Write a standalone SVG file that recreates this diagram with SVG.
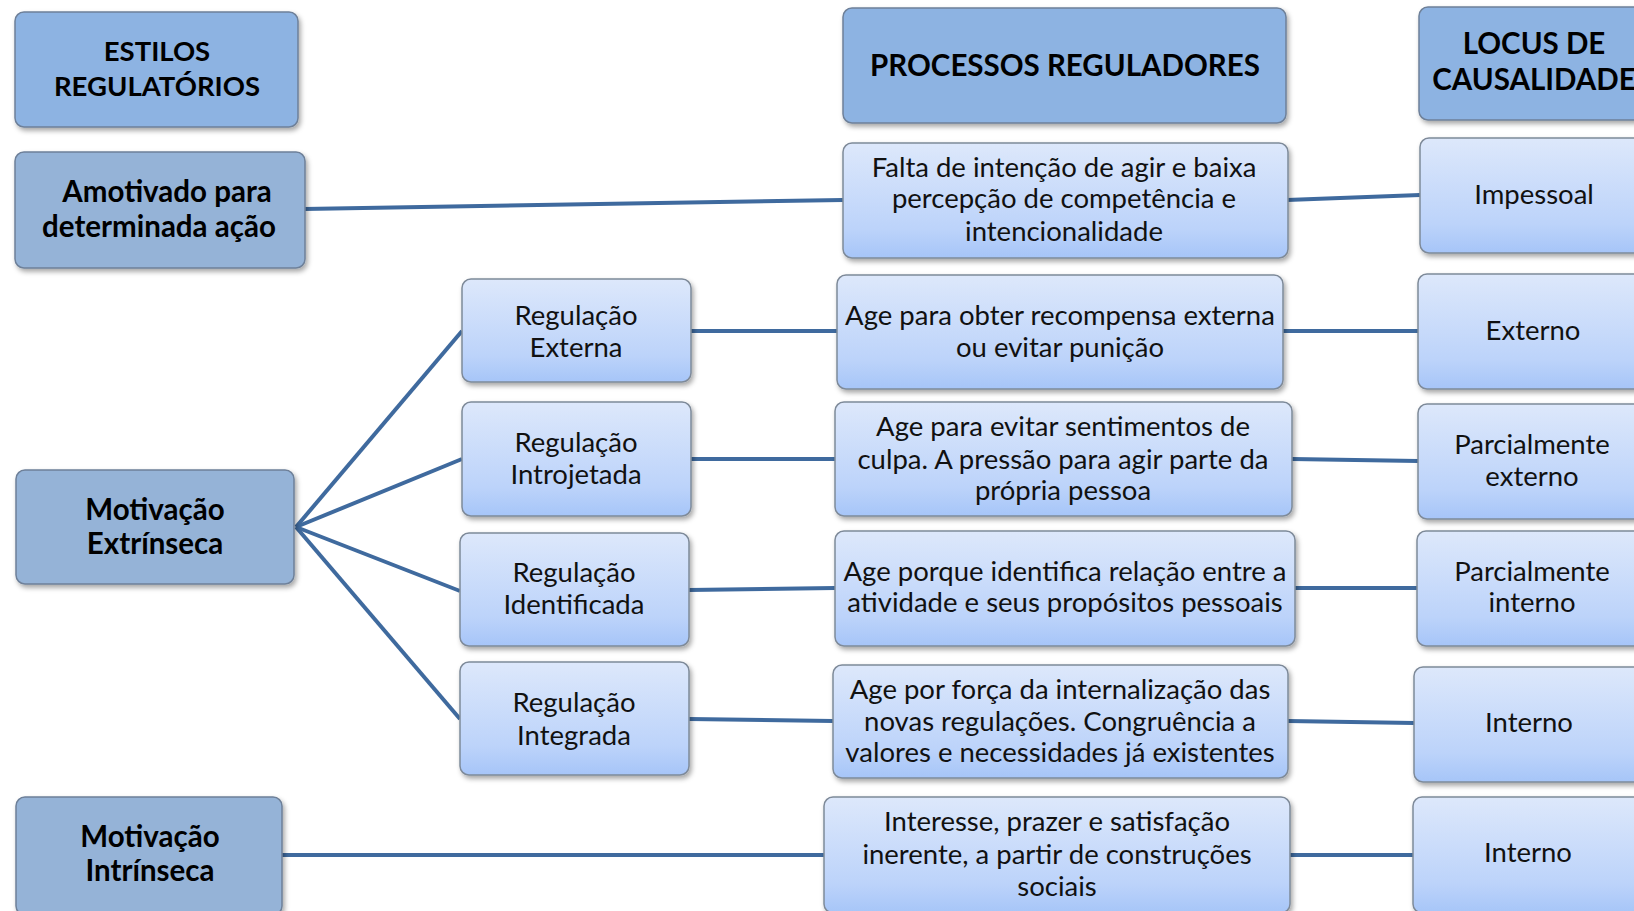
<svg xmlns="http://www.w3.org/2000/svg" width="1634" height="911" viewBox="0 0 1634 911">
<defs>
<linearGradient id="lg" x1="0" y1="0" x2="0" y2="1">
<stop offset="0" stop-color="#DDE8FB"/>
<stop offset="0.75" stop-color="#BCD3FA"/>
<stop offset="1" stop-color="#A6C5F8"/>
</linearGradient>
<filter id="sh" x="-10%" y="-10%" width="125%" height="130%">
<feDropShadow dx="2" dy="3" stdDeviation="2.5" flood-color="#000" flood-opacity="0.35"/>
</filter>
<style>
.hd{fill:#8DB3E2;stroke:#6E8099;stroke-width:1.5;filter:url(#sh)}
.dk{fill:#95B3D7;stroke:#6E8099;stroke-width:1.5;filter:url(#sh)}
.lt{fill:url(#lg);stroke:#7E8A99;stroke-width:1.5;filter:url(#sh)}
.b{font-family:Lato,"Open Sans","DejaVu Sans",sans-serif;font-weight:bold;font-size:29.5px;fill:#000;text-anchor:middle}
.b2{font-size:27.5px}
.t{font-family:Lato,"Open Sans","DejaVu Sans",sans-serif;font-size:27.5px;fill:#111;text-anchor:middle}
.c{stroke:#3F6A9E;stroke-width:4;fill:none;stroke-linecap:butt}
</style>
</defs>
<g id="connectors">
<line class="c" x1="304" y1="209" x2="843" y2="200"/>
<line class="c" x1="1287" y1="200" x2="1420" y2="195"/>
<line class="c" x1="296" y1="527" x2="462" y2="331"/>
<line class="c" x1="296" y1="527" x2="462" y2="459"/>
<line class="c" x1="296" y1="527" x2="460" y2="591"/>
<line class="c" x1="296" y1="527" x2="460" y2="719"/>
<line class="c" x1="691" y1="331" x2="837" y2="331"/>
<line class="c" x1="1283" y1="331" x2="1418" y2="331"/>
<line class="c" x1="691" y1="459" x2="835" y2="459"/>
<line class="c" x1="1292" y1="459" x2="1418" y2="461"/>
<line class="c" x1="689" y1="590" x2="835" y2="588"/>
<line class="c" x1="1295" y1="588" x2="1417" y2="588"/>
<line class="c" x1="689" y1="719" x2="833" y2="721"/>
<line class="c" x1="1288" y1="721" x2="1414" y2="723"/>
<line class="c" x1="282" y1="855" x2="824" y2="855"/>
<line class="c" x1="1290" y1="855" x2="1413" y2="855"/>
</g>
<g id="n-estilos"><rect class="hd" x="15" y="12" width="283" height="115" rx="9"/>
<text class="b b2" x="157" y="61">ESTILOS</text><text class="b b2" x="157" y="96">REGULATÓRIOS</text></g>
<g id="n-processos"><rect class="hd" x="843" y="8" width="443" height="115" rx="9"/>
<text class="b" x="1065" y="76">PROCESSOS REGULADORES</text></g>
<g id="n-locus"><rect class="hd" x="1419" y="7" width="232" height="113" rx="9"/>
<text class="b" x="1534" y="54">LOCUS DE</text><text class="b" x="1534" y="90">CAUSALIDADE</text></g>

<g id="n-amotivado"><rect class="dk" x="15" y="152" width="290" height="116" rx="9"/>
<text class="b" x="167" y="202">Amotivado para</text><text class="b" x="159" y="237">determinada ação</text></g>
<g id="n-falta"><rect class="lt" x="843" y="143" width="445" height="115" rx="9"/>
<text class="t" x="1064" y="177">Falta de intenção de agir e baixa</text><text class="t" x="1064" y="208">percepção de competência e</text><text class="t" x="1064" y="241">intencionalidade</text></g>
<g id="n-impessoal"><rect class="lt" x="1420" y="138" width="232" height="115" rx="9"/>
<text class="t" x="1534" y="204">Impessoal</text></g>

<g id="n-regext"><rect class="lt" x="462" y="279" width="229" height="103" rx="9"/>
<text class="t" x="576" y="325">Regulação</text><text class="t" x="576" y="357">Externa</text></g>
<g id="n-ageobter"><rect class="lt" x="837" y="275" width="446" height="114" rx="9"/>
<text class="t" x="1060" y="325">Age para obter recompensa externa</text><text class="t" x="1060" y="357">ou evitar punição</text></g>
<g id="n-externo"><rect class="lt" x="1418" y="274" width="232" height="115" rx="9"/>
<text class="t" x="1533" y="340">Externo</text></g>

<g id="n-extrinseca"><rect class="dk" x="16" y="470" width="278" height="114" rx="9"/>
<text class="b" x="155" y="520">Motivação</text><text class="b" x="155" y="554">Extrínseca</text></g>

<g id="n-regintro"><rect class="lt" x="462" y="402" width="229" height="114" rx="9"/>
<text class="t" x="576" y="452">Regulação</text><text class="t" x="576" y="484">Introjetada</text></g>
<g id="n-ageevitar"><rect class="lt" x="835" y="402" width="457" height="114" rx="9"/>
<text class="t" x="1063" y="436">Age para evitar sentimentos de</text><text class="t" x="1063" y="469">culpa. A pressão para agir parte da</text><text class="t" x="1063" y="500">própria pessoa</text></g>
<g id="n-parcext"><rect class="lt" x="1418" y="404" width="232" height="115" rx="9"/>
<text class="t" x="1532" y="454">Parcialmente</text><text class="t" x="1532" y="486">externo</text></g>

<g id="n-regident"><rect class="lt" x="460" y="533" width="229" height="113" rx="9"/>
<text class="t" x="574" y="582">Regulação</text><text class="t" x="574" y="614">Identificada</text></g>
<g id="n-ageporque"><rect class="lt" x="835" y="531" width="460" height="115" rx="9"/>
<text class="t" x="1065" y="581">Age porque identifica relação entre a</text><text class="t" x="1065" y="612">atividade e seus propósitos pessoais</text></g>
<g id="n-parcint"><rect class="lt" x="1417" y="531" width="232" height="115" rx="9"/>
<text class="t" x="1532" y="581">Parcialmente</text><text class="t" x="1532" y="612">interno</text></g>

<g id="n-reginteg"><rect class="lt" x="460" y="662" width="229" height="113" rx="9"/>
<text class="t" x="574" y="712">Regulação</text><text class="t" x="574" y="745">Integrada</text></g>
<g id="n-ageforca"><rect class="lt" x="833" y="665" width="455" height="113" rx="9"/>
<text class="t" x="1060" y="699">Age por força da internalização das</text><text class="t" x="1060" y="731">novas regulações. Congruência a</text><text class="t" x="1060" y="762">valores e necessidades já existentes</text></g>
<g id="n-interno1"><rect class="lt" x="1414" y="667" width="234" height="115" rx="9"/>
<text class="t" x="1529" y="732">Interno</text></g>

<g id="n-intrinseca"><rect class="dk" x="16" y="797" width="266" height="118" rx="9"/>
<text class="b" x="150" y="847">Motivação</text><text class="b" x="150" y="881">Intrínseca</text></g>
<g id="n-interesse"><rect class="lt" x="824" y="797" width="466" height="116" rx="9"/>
<text class="t" x="1057" y="831">Interesse, prazer e satisfação</text><text class="t" x="1057" y="864">inerente, a partir de construções</text><text class="t" x="1057" y="896">sociais</text></g>
<g id="n-interno2"><rect class="lt" x="1413" y="797" width="236" height="116" rx="9"/>
<text class="t" x="1528" y="862">Interno</text></g>
</svg>
